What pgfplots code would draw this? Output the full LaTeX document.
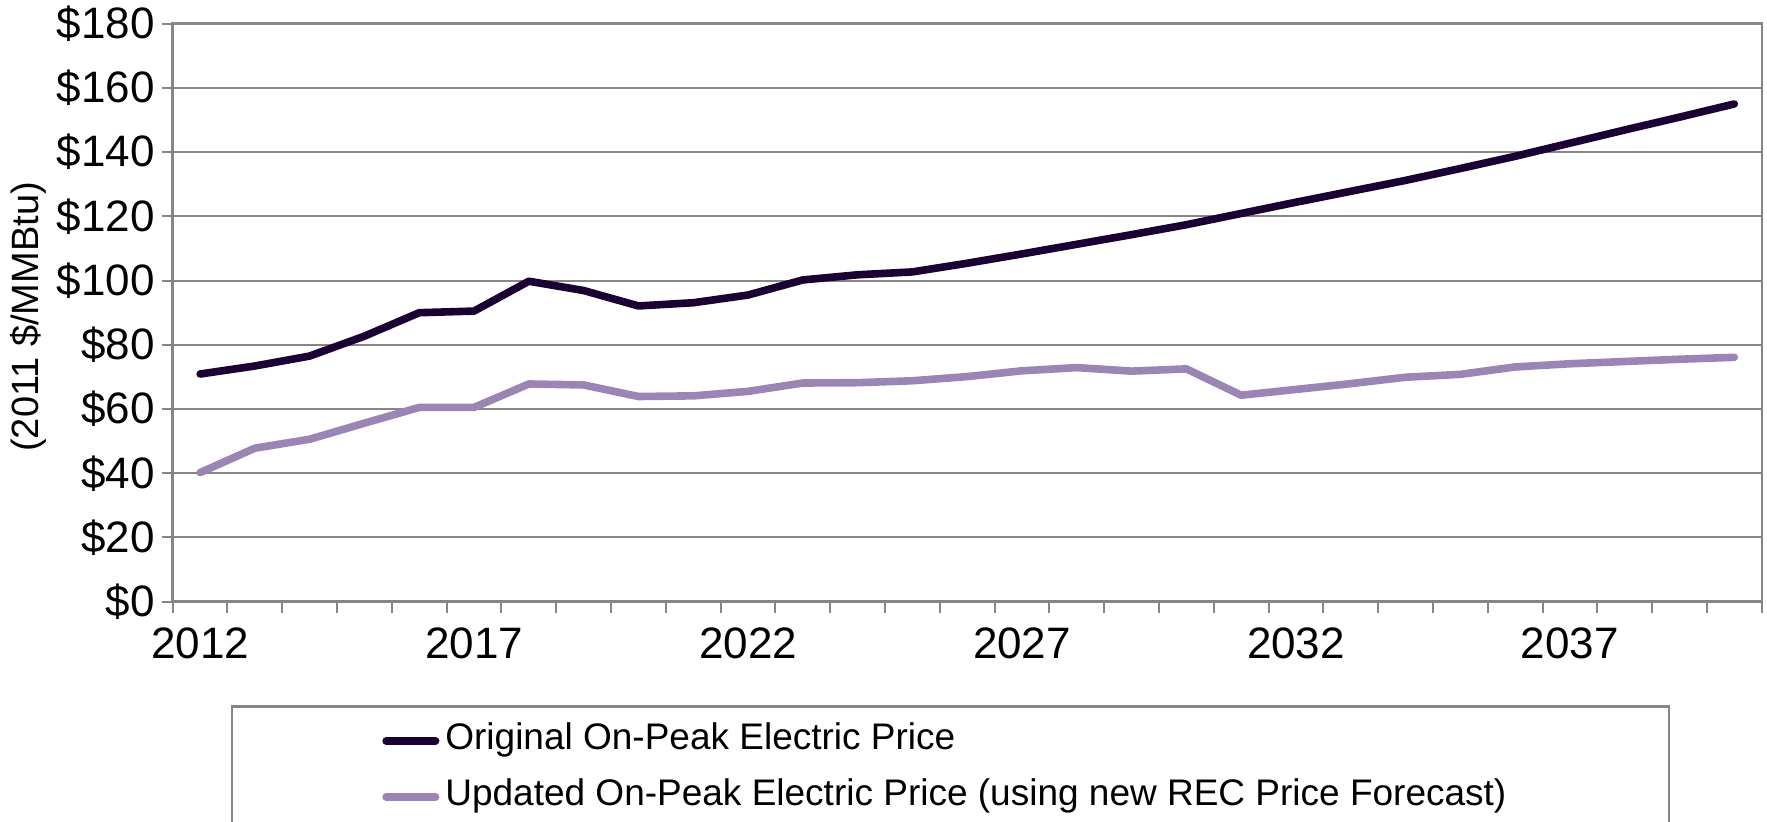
\documentclass[border=0pt]{standalone}
\usepackage{fontspec}
\setmainfont{Liberation Sans}
\usepackage{pgfplots}
\usepackage{pgfplotstable}
\pgfplotsset{compat=1.18}

\definecolor{origline}{RGB}{26,0,51}
\definecolor{updline}{RGB}{155,133,181}
\definecolor{axisgray}{RGB}{134,134,134}

\newcommand{\tickfont}{\fontsize{22}{26}\selectfont}
\newcommand{\legendfont}{\fontsize{18.5}{22}\selectfont}

% On-peak electric price forecasts, 2011 $/MMBtu
\pgfplotstableread{
year orig  upd
2012 70.9  40.2
2013 73.4  47.8
2014 76.5  50.6
2015 82.7  55.6
2016 90.0  60.5
2017 90.5  60.5
2018 99.8  67.8
2019 96.9  67.5
2020 92.1  63.9
2021 93.1  64.1
2022 95.5  65.5
2023 100.2 68.1
2024 101.8 68.2
2025 102.7 68.8
2026 105.4 70.1
2027 108.3 71.9
2028 111.3 72.9
2029 114.3 71.8
2030 117.4 72.5
2031 120.9 64.3
2032 124.4 66.1
2033 127.8 67.9
2034 131.2 69.9
2035 134.9 70.8
2036 138.7 73.1
2037 142.8 74.1
2038 146.9 74.8
2039 150.9 75.5
2040 155.0 76.1
}\pricedata

\begin{document}
\begin{tikzpicture}
\begin{axis}[
  at={(0pt,0pt)}, anchor=south west,
  scale only axis, width=794.5pt, height=289pt,
  xmin=2011.5, xmax=2040.5, ymin=0, ymax=180,
  ytick={0,20,...,180},
  yticklabel={\tickfont\$\pgfmathprintnumber{\tick}},
  % tick marks sit between the yearly categories
  xtick={2011.5,2012.5,...,2040.5},
  xticklabels={},
  extra x ticks={2012,2017,2022,2027,2032,2037},
  extra x tick labels={2012,2017,2022,2027,2032,2037},
  extra x tick style={tick style={draw=none}, grid=none},
  tick align=outside,
  tick pos=left,
  major tick length=5.5pt,
  every tick/.style={axisgray, line width=1pt},
  ymajorgrids,
  grid style={axisgray, line width=1pt},
  axis line style={axisgray, line width=1.2pt},
  /pgf/number format/assume math mode=true,
  xticklabel style={font=\tickfont, black, yshift=-3.8pt},
  yticklabel style={font=\tickfont, black},
  ylabel={(2011 \$/MMBtu)},
  ylabel style={at={(axis description cs:-0.0911,0.4926)}, anchor=center,
    font=\fontsize{19}{23}\selectfont},
  legend cell align=left,
  legend image code/.code={\draw[#1] (1.9pt,0pt) -- (26.6pt,0pt);},
  legend style={at={(axis description cs:0.1317,-0.2109)}, anchor=north west,
    draw=none, fill=none, inner sep=0pt, row sep=11pt, column sep=3pt,
    font=\legendfont,
    nodes={inner sep=0pt, text height=13pt, text depth=4pt}},
]
\addplot[origline, line width=3.8pt, line cap=round, line join=round]
  table[x=year, y=orig]{\pricedata};
\addlegendentry{Original On-Peak Electric Price}
\addplot[updline, line width=3.8pt, line cap=round, line join=round]
  table[x=year, y=upd]{\pricedata};
\addlegendentry{Updated On-Peak Electric Price (using new REC Price Forecast)}
\end{axis}
% legend frame, running past the lower edge of the page
\draw[axisgray, line width=1.2pt] (29.65pt,-130pt) rectangle (748.15pt,-52.4pt);
\pgfresetboundingbox
\path[use as bounding box] (-86.35pt,-110.15pt) rectangle (797.15pt,300.85pt);
\end{tikzpicture}
\end{document}
